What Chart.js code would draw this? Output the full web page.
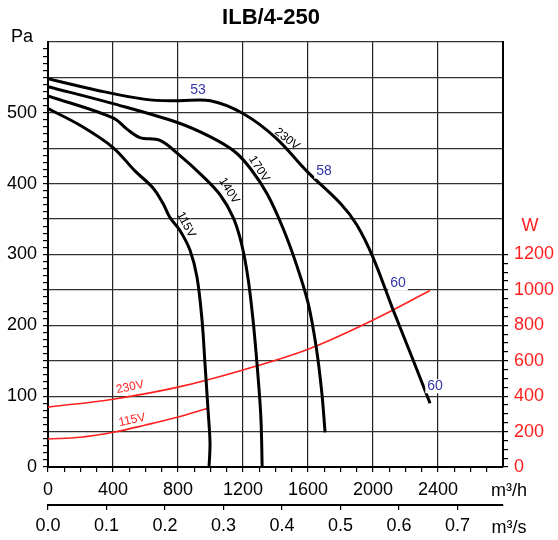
<!DOCTYPE html>
<html lang="en">
<head>
<meta charset="UTF-8">
<title>ILB/4-250</title>
<script src="https://cdn.jsdelivr.net/npm/chart.js"></script>
<style>
  body { margin: 0; background: #fff; }
</style>
</head>
<body>
<canvas id="fanChart" width="558" height="540"></canvas>
<script>
  // axis ticks
  const flowTicks = [0, 400, 800, 1200, 1600, 2000, 2400];
  const flowSecTicks = [0.0, 0.1, 0.2, 0.3, 0.4, 0.5, 0.6, 0.7];
  const paTicks = [0, 100, 200, 300, 400, 500];
  const wattTicks = [0, 200, 400, 600, 800, 1000, 1200];

  // pressure curves [m3/h, Pa]
  const p230 = [[0,548],[300,532],[600,519],[800,517],[1000,517],[1200,499],[1400,465],[1600,416],[1800,372],[1900,342],[2000,296],[2120,224],[2240,155],[2351,90]];
  const p170 = [[0,537],[400,513],[800,486],[1000,466],[1150,445],[1250,420],[1350,385],[1450,335],[1530,285],[1600,232],[1650,170],[1685,105],[1705,49]];
  const p140 = [[0,524],[400,493],[486,477],[566,465],[689,461],[800,442],[950,411],[1060,384],[1140,352],[1190,316],[1230,268],[1262,207],[1290,135],[1310,70],[1318,0]];
  const p115 = [[0,506],[200,482],[400,451],[535,418],[646,394],[708,372],[751,352],[812,334],[874,306],[917,268],[948,207],[966,146],[985,80],[997,34],[991,0]];

  // power curves [m3/h, W]
  const w230 = [[0,338],[400,383],[800,451],[1200,548],[1600,665],[2000,830],[2351,997]];
  const w115 = [[0,158],[200,168],[400,196],[600,237],[800,282],[985,332]];

  // curve annotations [text, m3/h, value, angle deg, axis, colour]
  const curveLabels = [
    ['53', 923, 532, 0, 'y', '#3535a8'],
    ['58', 1698, 417, 0, 'y', '#3535a8'],
    ['60', 2154, 259, 0, 'y', '#3535a8'],
    ['60', 2382, 114, 0, 'y', '#3535a8'],
    ['230V', 1471, 463, 38, 'y', '#000'],
    ['170V', 1298, 421, 57, 'y', '#000'],
    ['140V', 1114, 390, 58, 'y', '#000'],
    ['115V', 849, 342, 62, 'y', '#000'],
    ['230V', 505, 451, -12, 'y2', '#ff2020'],
    ['115V', 517, 265, -12, 'y2', '#ff2020']
  ];

  const FONT = '"Liberation Sans", Arial, sans-serif';
  const toPts = arr => arr.map(p => ({ x: p[0], y: p[1] }));
  const steps = (from, to, step) => {
    const out = [];
    for (let v = from; v <= to + 1e-9; v += step) out.push({ value: +v.toFixed(4) });
    return out;
  };

  const blackLine = (data) => ({
    data: toPts(data), yAxisID: 'y', borderColor: '#000', borderWidth: 3,
    pointRadius: 0, tension: 0.35, fill: false
  });
  const redLine = (data) => ({
    data: toPts(data), yAxisID: 'y2', borderColor: '#ff2020', borderWidth: 1.6,
    pointRadius: 0, tension: 0.35, fill: false
  });

  const extras = {
    id: 'extras',
    afterDatasetsDraw(chart) {
      const { ctx, scales } = chart;
      ctx.save();
      ctx.textAlign = 'center';
      ctx.textBaseline = 'middle';
      curveLabels.forEach(([txt, q, v, ang, axis, col]) => {
        const px = scales.x.getPixelForValue(q);
        const py = scales[axis].getPixelForValue(v);
        ctx.save();
        ctx.translate(px, py);
        ctx.rotate(ang * Math.PI / 180);
        ctx.font = (col === '#3535a8' ? '14px ' : '12px ') + FONT;
        if (col === '#3535a8') {
          const w = ctx.measureText(txt).width;
          ctx.fillStyle = '#fff';
          ctx.fillRect(-w / 2 - 2, -7, w + 4, 14);
        }
        ctx.fillStyle = col;
        ctx.fillText(txt, 0, 0);
        ctx.restore();
      });

      // title and unit labels
      ctx.fillStyle = '#000';
      ctx.font = 'bold 22px ' + FONT;
      ctx.fillText('ILB/4-250', 271, 18);
      ctx.font = '18px ' + FONT;
      ctx.fillText('Pa', 22, 37);
      ctx.fillText('m³/h', 509, 491);
      ctx.fillText('m³/s', 509, 528);
      ctx.fillStyle = '#ff2020';
      ctx.fillText('W', 530, 226);
      ctx.restore();
    }
  };

  new Chart(document.getElementById('fanChart'), {
    type: 'line',
    data: {
      datasets: [
        blackLine(p230), blackLine(p170), blackLine(p140), blackLine(p115),
        redLine(w230), redLine(w115)
      ]
    },
    options: {
      responsive: false,
      animation: false,
      layout: { padding: { top: 42, left: 0, right: 0, bottom: 0 } },
      plugins: { legend: { display: false }, tooltip: { enabled: false } },
      scales: {
        x: {
          type: 'linear', position: 'bottom', min: 0, max: 2800,
          afterBuildTicks: s => { s.ticks = steps(0, 2800, 100); },
          afterFit: s => { s.height = 38; },
          grid: {
            color: c => (c.tick && c.tick.value % 400 === 0 ? '#222' : 'transparent'),
            tickColor: c => (c.tick && c.tick.value < 2800 ? '#000' : 'transparent'),
            lineWidth: 1.2, tickLength: 5
          },
          border: { color: '#000', width: 2 },
          ticks: {
            autoSkip: false, maxRotation: 0, padding: 7, color: '#000',
            font: { family: FONT, size: 18 },
            callback: v => (flowTicks.includes(v) ? String(v) : '')
          }
        },
        x2: {
          type: 'linear', position: 'bottom', min: 0, max: 2800 / 3600,
          afterBuildTicks: s => { s.ticks = flowSecTicks.map(v => ({ value: v })); },
          afterFit: s => { s.height = 35; },
          grid: { drawOnChartArea: false, tickColor: '#000', tickLength: 5, lineWidth: 1.2 },
          border: { color: '#000', width: 2 },
          ticks: {
            autoSkip: false, maxRotation: 0, padding: 5, color: '#000',
            font: { family: FONT, size: 18 },
            callback: v => v.toFixed(1)
          }
        },
        y: {
          type: 'linear', position: 'left', min: 0, max: 600,
          afterBuildTicks: s => { s.ticks = steps(0, 600, 10); },
          afterFit: s => { s.width = 48; },
          grid: {
            color: c => (c.tick && c.tick.value % 50 === 0 ? '#333' : 'transparent'),
            tickColor: c => (c.tick && c.tick.value < 600 ? '#000' : 'transparent'),
            lineWidth: 1.2, tickLength: 5
          },
          border: { color: '#000', width: 2 },
          ticks: {
            autoSkip: false, padding: 6, color: '#000',
            font: { family: FONT, size: 18 },
            callback: v => (paTicks.includes(v) ? String(v) : '')
          }
        },
        y2: {
          type: 'linear', position: 'right', min: 0, max: 2400,
          afterBuildTicks: s => { s.ticks = steps(0, 1200, 50); },
          afterFit: s => { s.width = 55; },
          grid: { drawOnChartArea: false, tickColor: '#000', tickLength: 5, lineWidth: 1.2 },
          border: { color: '#000', width: 2 },
          ticks: {
            autoSkip: false, padding: 6, color: '#ff2020',
            font: { family: FONT, size: 18 },
            callback: v => (wattTicks.includes(v) ? String(v) : '')
          }
        }
      }
    },
    plugins: [extras]
  });
</script>
</body>
</html>
